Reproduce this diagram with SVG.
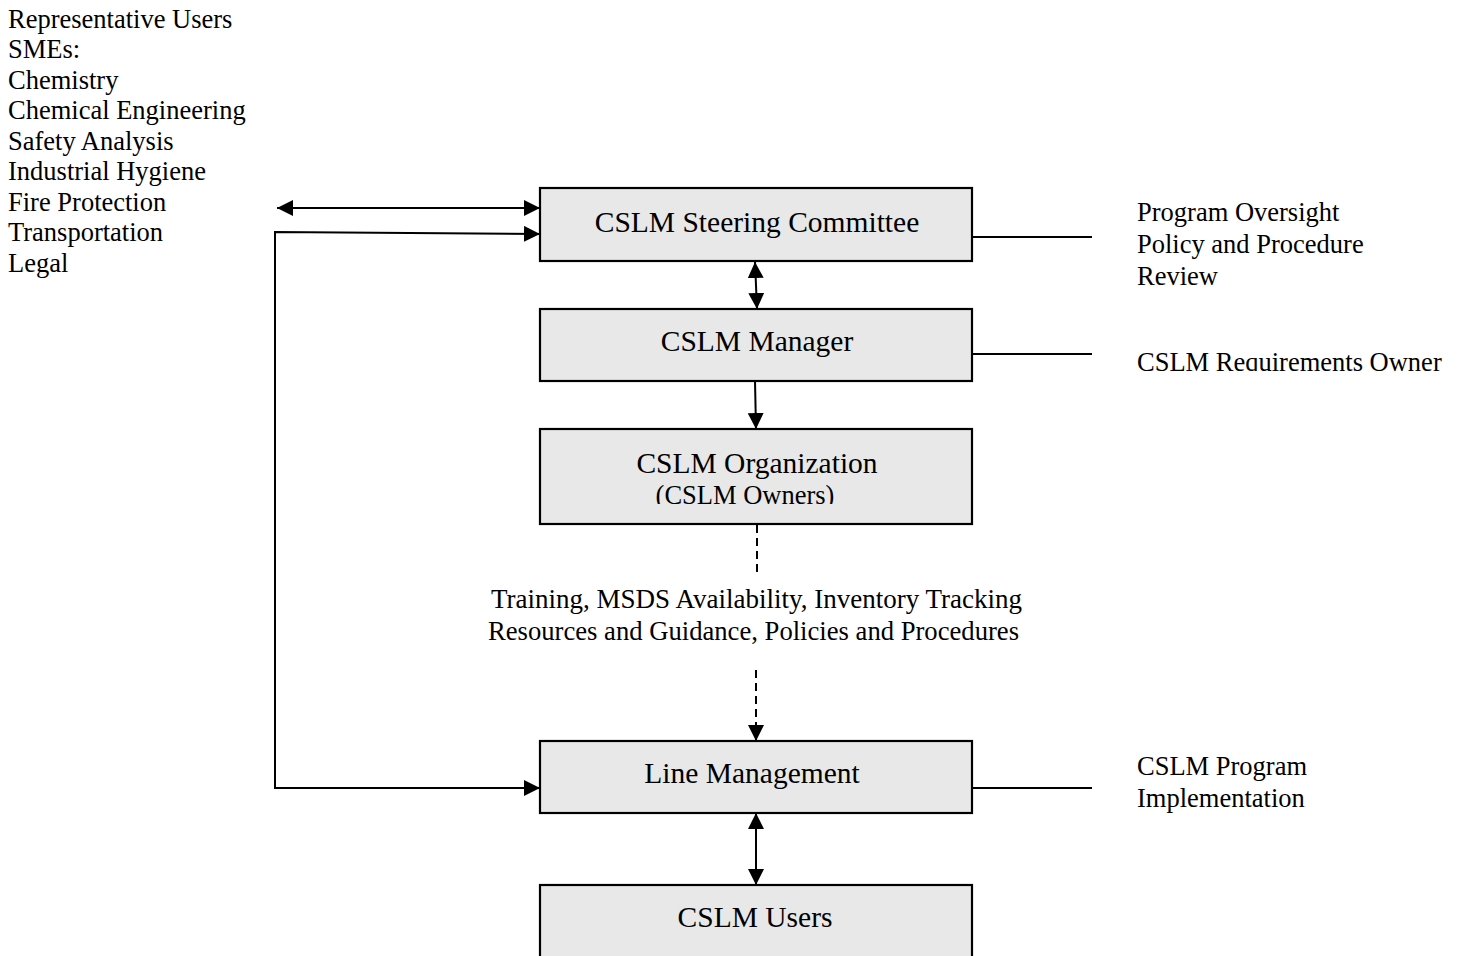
<svg xmlns="http://www.w3.org/2000/svg" width="1458" height="956" viewBox="0 0 1458 956">
<style>
  .box { fill: #e8e8e8; stroke: #000; stroke-width: 2.2; }
  .bt { font-family: "Liberation Serif", "Times New Roman", serif; font-size: 29.5px; fill: #000; text-anchor: middle; }
  .t { font-family: "Liberation Serif", "Times New Roman", serif; font-size: 26.5px; fill: #000; }
  .c { fill: none; stroke: #000; stroke-width: 2; }
  .d { stroke-dasharray: 8 5; }
</style>
<defs>
  <marker id="ah" viewBox="0 0 16 16" refX="16" refY="8" markerWidth="16" markerHeight="16" markerUnits="userSpaceOnUse" orient="auto-start-reverse">
    <path d="M0,0 L16,8 L0,16 Z" fill="#000"/>
  </marker>
  <clipPath id="clipOwners"><rect x="540" y="478" width="432" height="26"/></clipPath>
  <clipPath id="clipReq"><rect x="1100" y="330" width="358" height="41"/></clipPath>
</defs>
<rect width="1458" height="956" fill="#fff"/>

<g id="sme-list">
  <text class="t" x="8" y="27.5">Representative Users</text>
  <text class="t" x="8" y="58">SMEs:</text>
  <text class="t" x="8" y="88.5">Chemistry</text>
  <text class="t" x="8" y="119">Chemical Engineering</text>
  <text class="t" x="8" y="149.5">Safety Analysis</text>
  <text class="t" x="8" y="180">Industrial Hygiene</text>
  <text class="t" x="8" y="210.5">Fire Protection</text>
  <text class="t" x="8" y="241">Transportation</text>
  <text class="t" x="8" y="271.5">Legal</text>
</g>

<g id="connectors">
  <path class="c" d="M277,208 L540,208" marker-start="url(#ah)" marker-end="url(#ah)"/>
  <path class="c" d="M275,788 L275,232 L540,234" marker-end="url(#ah)"/>
  <path class="c" d="M275,232 L275,788 L540,788" marker-end="url(#ah)"/>
  <path class="c" d="M755,262 L757,309" marker-start="url(#ah)" marker-end="url(#ah)"/>
  <path class="c" d="M755,381 L756,429" marker-end="url(#ah)"/>
  <path class="c d" d="M757,525 L757,573"/>
  <path class="c d" d="M756,670 L756,741" marker-end="url(#ah)"/>
  <path class="c" d="M756,813 L756,885" marker-start="url(#ah)" marker-end="url(#ah)"/>
  <path class="c" d="M972,237 L1092,237"/>
  <path class="c" d="M972,354 L1092,354"/>
  <path class="c" d="M972,788 L1092,788"/>
</g>

<g id="steering-committee">
  <rect class="box" x="540" y="188" width="432" height="73"/>
  <text class="bt" x="757" y="232">CSLM Steering Committee</text>
</g>
<g id="cslm-manager">
  <rect class="box" x="540" y="309" width="432" height="72"/>
  <text class="bt" x="757" y="351">CSLM Manager</text>
</g>
<g id="cslm-organization">
  <rect class="box" x="540" y="429" width="432" height="95"/>
  <text class="bt" x="757" y="473">CSLM Organization</text>
  <text class="bt" x="745" y="504" style="font-size:26.5px" clip-path="url(#clipOwners)">(CSLM Owners)</text>
</g>
<g id="line-management">
  <rect class="box" x="540" y="741" width="432" height="72"/>
  <text class="bt" x="752" y="783">Line Management</text>
</g>
<g id="cslm-users">
  <rect class="box" x="540" y="885" width="432" height="90"/>
  <text class="bt" x="755" y="927">CSLM Users</text>
</g>

<g id="flow-label">
  <text class="t" x="491" y="608" textLength="531" lengthAdjust="spacingAndGlyphs">Training, MSDS Availability, Inventory Tracking</text>
  <text class="t" x="488" y="640" textLength="531" lengthAdjust="spacingAndGlyphs">Resources and Guidance, Policies and Procedures</text>
</g>

<g id="oversight-label">
  <text class="t" x="1137" y="221">Program Oversight</text>
  <text class="t" x="1137" y="253">Policy and Procedure</text>
  <text class="t" x="1137" y="285">Review</text>
</g>
<g id="requirements-label">
  <text class="t" x="1137" y="371" clip-path="url(#clipReq)">CSLM Requirements Owner</text>
</g>
<g id="implementation-label">
  <text class="t" x="1137" y="775">CSLM Program</text>
  <text class="t" x="1137" y="807">Implementation</text>
</g>
</svg>
